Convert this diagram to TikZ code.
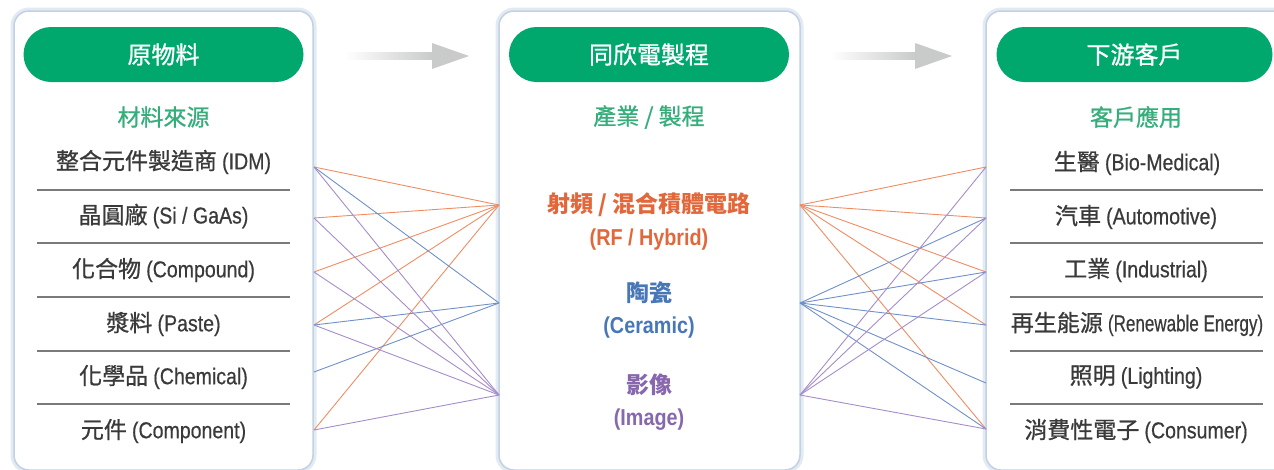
\documentclass[tikz,border=0pt]{standalone}
\usepackage{fontspec}
\setmainfont{Noto Sans CJK TC}
\newfontfamily\cjkmid{Noto Sans CJK TC}[FakeBold=0.9]
\newfontfamily\latn{Liberation Sans}[FakeStretch=0.85, FakeBold=0.5]
\newfontfamily\latnnarrow{Liberation Sans}[FakeStretch=0.74, FakeBold=0.5]
\newfontfamily\latnbold{Liberation Sans Bold}[FakeStretch=0.86]
\usetikzlibrary{positioning,calc}
\definecolor{brandgreen}{HTML}{00A86E}
\definecolor{subgreen}{HTML}{36AE7B}
\definecolor{itemgray}{HTML}{3A3A3A}
\definecolor{rulegray}{HTML}{7A7A7A}
\definecolor{panelrim}{HTML}{C2D1E3}
\definecolor{panelglow}{HTML}{E2EAF4}
\definecolor{rfcolor}{HTML}{E2683C}
\definecolor{cercolor}{HTML}{4877B8}
\definecolor{imgcolor}{HTML}{8767AE}
\definecolor{rfline}{HTML}{F08C62}
\definecolor{cerline}{HTML}{6F90C9}
\definecolor{imgline}{HTML}{A68CCB}
\definecolor{arrowgray}{HTML}{C9CACA}

\begin{document}
\begin{tikzpicture}[x=1pt, y=-1pt,
    panelstyle/.style={draw=panelrim, line width=1.5pt, fill=white, rounded corners=15pt},
    glowstyle/.style={draw=panelglow, line width=7pt, rounded corners=15pt},
    pillstyle/.style={fill=brandgreen, rounded corners=27.5pt, minimum width=280pt, minimum height=55pt, inner sep=0pt, text=white, font=\cjkmid\fontsize{24}{28}\selectfont},
    substyle/.style={text=subgreen, inner sep=0pt, font=\cjkmid\fontsize{23}{27}\selectfont},
    itemstyle/.style={text=itemgray, inner sep=0pt, font=\cjkmid\fontsize{23}{27}\selectfont},
    catstyle/.style={inner sep=0pt, font=\bfseries\fontsize{23}{27}\selectfont},
    rulestyle/.style={draw=rulegray, line width=1.2pt},
    linkstyle/.style={line width=0.9pt}
  ]
  \useasboundingbox (0,0) rectangle (1274,469);

  % panels
  \draw[glowstyle] (14,11) rectangle (313,470);
  \draw[glowstyle] (499,11) rectangle (800,470);
  \draw[glowstyle] (986,11) rectangle (1300,470);
  \draw[panelstyle] (14,11) rectangle (313,470);
  \draw[panelstyle] (499,11) rectangle (800,470);
  \draw[panelstyle] (986,11) rectangle (1300,470);

  \node[pillstyle] (SOURCE) at (163.5,54.5) {原物料};
  \node[pillstyle] (PROCESS) at (649,54.5) {同欣電製程};
  \node[pillstyle, minimum width=276pt] (CUSTOMER) at (1134.5,54.5) {下游客戶};

  \node[substyle] (SOURCESUB) at (163.5,117) {材料來源};
  \node[substyle] (PROCESSSUB) at (649,117) {產業 / 製程};
  \node[substyle] (CUSTOMERSUB) at (1136,117) {客戶應用};

  % flow arrows
  \coordinate (FLOW1-tail) at (345,56);
  \coordinate (FLOW1-tip) at (469,56);
  \coordinate (FLOW2-tail) at (830,56);
  \coordinate (FLOW2-tip) at (952,56);
  \foreach \f in {FLOW1,FLOW2} {
    \shade[left color=white, right color=arrowgray]
      ($(\f-tail)+(0,-3.7)$) rectangle ($(\f-tip)+(-36,3.7)$);
    \fill[arrowgray] ($(\f-tip)+(-37,-13)$) -- (\f-tip) -- ($(\f-tip)+(-37,13)$) -- cycle;
  }

  % materials
  \node[itemstyle] (IDM) at (163.5,162) {整合元件製造商 {\latn (IDM)}};
  \node[itemstyle] (SIGAAS) at (163.5,216) {晶圓廠 {\latn (Si / GaAs)}};
  \node[itemstyle] (COMPOUND) at (163.5,270) {化合物 {\latn (Compound)}};
  \node[itemstyle] (PASTE) at (163.5,324) {漿料 {\latn (Paste)}};
  \node[itemstyle] (CHEMICAL) at (163.5,377) {化學品 {\latn (Chemical)}};
  \node[itemstyle] (COMPONENT) at (163.5,431) {元件 {\latn (Component)}};

  % applications
  \node[itemstyle] (BIO) at (1137,163) {生醫 {\latn (Bio-Medical)}};
  \node[itemstyle] (AUTO) at (1136,217) {汽車 {\latn (Automotive)}};
  \node[itemstyle] (IND) at (1136,270) {工業 {\latn (Industrial)}};
  \node[itemstyle] (REN) at (1137,324) {再生能源 {\latnnarrow (Renewable Energy)}};
  \node[itemstyle] (LIG) at (1136,377) {照明 {\latn (Lighting)}};
  \node[itemstyle] (CON) at (1136,431) {消費性電子 {\latn (Consumer)}};

  \foreach \y in {190,243,297,351,404} {
    \draw[rulestyle] (37,\y) -- (290,\y);
    \draw[rulestyle] (1010,\y) -- (1263,\y);
  }

  % processes
  \node[catstyle, text=rfcolor] (RF) at (649,205) {射頻 / 混合積體電路};
  \node[catstyle, text=rfcolor] (RFEN) at (649,240) {\latnbold (RF / Hybrid)};
  \node[catstyle, text=cercolor] (CER) at (649,293) {陶瓷};
  \node[catstyle, text=cercolor] (CEREN) at (649,328) {\latnbold (Ceramic)};
  \node[catstyle, text=imgcolor] (IMG) at (649,385) {影像};
  \node[catstyle, text=imgcolor] (IMGEN) at (649,420) {\latnbold (Image)};

  % ports on the panel edges
  \coordinate (IDM-port) at (314,167);
  \coordinate (SIGAAS-port) at (314,218);
  \coordinate (COMPOUND-port) at (314,272);
  \coordinate (PASTE-port) at (314,325);
  \coordinate (CHEMICAL-port) at (314,372);
  \coordinate (COMPONENT-port) at (314,430);
  \coordinate (RF-in) at (499,205);
  \coordinate (CER-in) at (499,303);
  \coordinate (IMG-in) at (499,395);
  \coordinate (RF-out) at (800,205);
  \coordinate (CER-out) at (800,303);
  \coordinate (IMG-out) at (800,395);
  \coordinate (BIO-port) at (986,167);
  \coordinate (AUTO-port) at (986,218);
  \coordinate (IND-port) at (986,272);
  \coordinate (REN-port) at (986,325);
  \coordinate (LIG-port) at (986,383);
  \coordinate (CON-port) at (986,429);

  \foreach \src in {IDM,SIGAAS,COMPOUND,PASTE,COMPONENT}
    \draw[linkstyle, rfline] (\src-port) -- (RF-in);
  \foreach \src in {IDM,PASTE,CHEMICAL}
    \draw[linkstyle, cerline] (\src-port) -- (CER-in);
  \foreach \src in {IDM,SIGAAS,COMPOUND,PASTE,COMPONENT}
    \draw[linkstyle, imgline] (\src-port) -- (IMG-in);

  \foreach \dst in {BIO,AUTO,IND,REN,CON}
    \draw[linkstyle, rfline] (RF-out) -- (\dst-port);
  \foreach \dst in {AUTO,IND,REN,LIG,CON}
    \draw[linkstyle, cerline] (CER-out) -- (\dst-port);
  \foreach \dst in {BIO,AUTO,IND,CON}
    \draw[linkstyle, imgline] (IMG-out) -- (\dst-port);
\end{tikzpicture}
\end{document}
